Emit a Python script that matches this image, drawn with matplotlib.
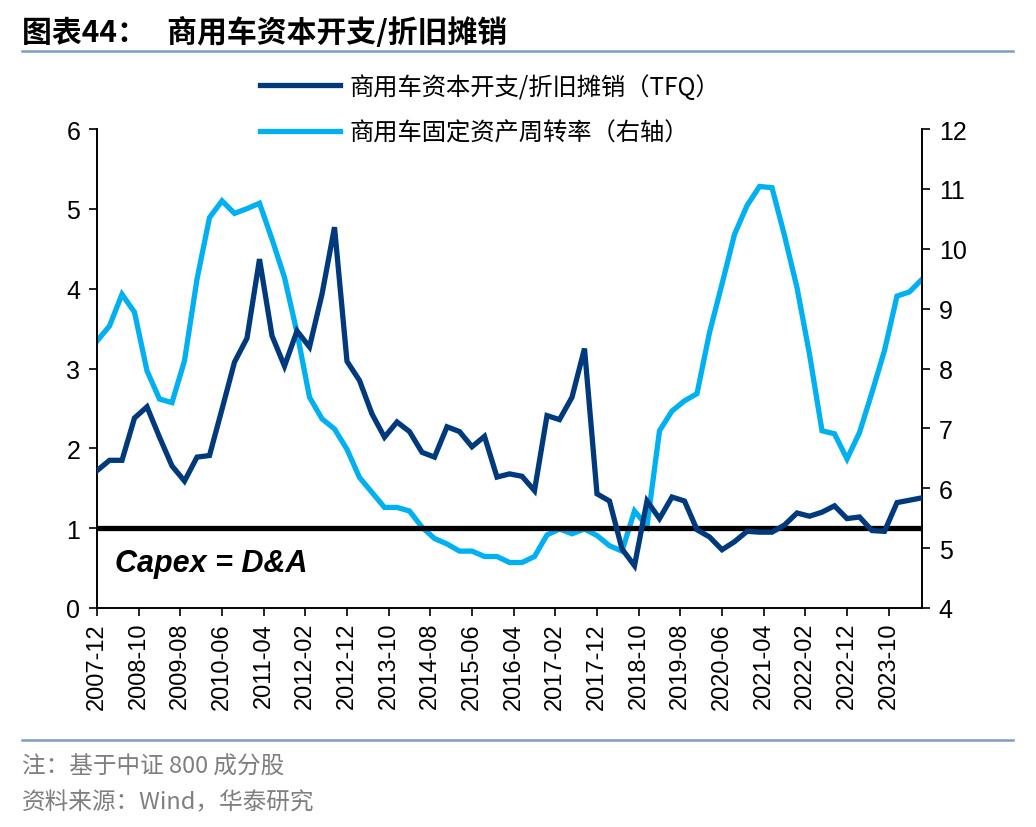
import pandas as pd
import matplotlib
matplotlib.use('Agg')
import matplotlib.pyplot as plt
from matplotlib.lines import Line2D

plt.rcParams['font.family'] = ['Liberation Sans', 'Noto Sans CJK SC']

# quarterly, 2007-12 .. 2024-06
dates = pd.date_range('2007-12-31', periods=67, freq='QE')

capex_da = [1.72, 1.85, 1.85, 2.38, 2.52, 2.14, 1.78, 1.59, 1.89, 1.91,
            2.49, 3.08, 3.38, 4.37, 3.41, 3.03, 3.47, 3.27, 3.93, 4.77,
            3.09, 2.85, 2.43, 2.14, 2.33, 2.21, 1.95, 1.89, 2.27, 2.21,
            2.02, 2.15, 1.64, 1.68, 1.65, 1.47, 2.41, 2.36, 2.64, 3.25,
            1.43, 1.34, 0.74, 0.53, 1.34, 1.12, 1.39, 1.34, 0.98, 0.89,
            0.73, 0.83, 0.96, 0.95, 0.95, 1.04, 1.19, 1.15, 1.20, 1.28,
            1.12, 1.14, 0.97, 0.96, 1.32, 1.35, 1.38]

turnover = [8.46, 8.71, 9.24, 8.94, 7.96, 7.49, 7.43, 8.13, 9.49, 10.52,
            10.80, 10.59, 10.67, 10.76, 10.16, 9.52, 8.60, 7.52, 7.16, 6.99,
            6.65, 6.18, 5.93, 5.68, 5.68, 5.62, 5.35, 5.16, 5.07, 4.95,
            4.95, 4.86, 4.86, 4.76, 4.76, 4.86, 5.22, 5.32, 5.24, 5.32,
            5.21, 5.04, 4.95, 5.62, 5.37, 6.96, 7.29, 7.46, 7.58, 8.60,
            9.41, 10.24, 10.72, 11.04, 11.02, 10.22, 9.35, 8.24, 6.96, 6.91,
            6.49, 6.93, 7.60, 8.30, 9.21, 9.28, 9.49]

tick_labels = ['2007-12', '2008-10', '2009-08', '2010-06', '2011-04', '2012-02',
               '2012-12', '2013-10', '2014-08', '2015-06', '2016-04', '2017-02',
               '2017-12', '2018-10', '2019-08', '2020-06', '2021-04', '2022-02',
               '2022-12', '2023-10']

def month_no(y, m):
    return (y - 2007) * 12 + m - 12

x = [month_no(d.year, d.month) for d in dates]
tick_pos = [month_no(int(s[:4]), int(s[5:])) for s in tick_labels]

dark = '#003A7D'
light = '#00B0F0'
rule = '#7F9CC4'
cjk = ['Noto Sans CJK SC']

fig = plt.figure(figsize=(10.36, 8.28), dpi=100)
ax = fig.add_axes([97/1036, 1-609/828, 825/1036, 479/828])
ax2 = ax.twinx()

ax.plot(x, capex_da, color=dark, lw=3.8, solid_joinstyle='miter', zorder=3)
ax.axhline(1, color='black', lw=3.8, zorder=2)
ax2.plot(x, turnover, color=light, lw=3.8, solid_joinstyle='miter', zorder=2)
ax.set_zorder(ax2.get_zorder() + 1)
ax.patch.set_visible(False)

ax.set_xlim(0, x[-1])
ax.set_ylim(0, 6)
ax2.set_ylim(4, 12)
ax.set_yticks(range(0, 7))
ax2.set_yticks(range(4, 13))
ax.set_xticks(tick_pos)
ax.set_xticklabels(tick_labels, rotation=90)

for a in (ax, ax2):
    a.spines['top'].set_visible(False)
    for s in a.spines.values():
        s.set_linewidth(1.2)
    a.tick_params(direction='out', length=6, width=1.2, labelsize=18, pad=6)
ax.tick_params(axis='x', labelsize=17, pad=4)

ax.text(0.022, 0.093, 'Capex = D&A', transform=ax.transAxes, fontsize=22,
        fontweight='bold', fontstyle='italic', va='center', ha='left')

handles = [Line2D([], [], color=dark, lw=3.8),
           Line2D([], [], color=light, lw=3.8)]
labels = ['商用车资本开支/折旧摊销（TFQ）', '商用车固定资产周转率（右轴）']
fig.legend(handles, labels, loc='upper left', bbox_to_anchor=(238/1036, 1-53/828),
           frameon=False, handlelength=3.3, handletextpad=0.4, labelspacing=0.8,
           prop={'family': cjk, 'size': 17.5})

fig.text(22/1036, 1-32/828, '图表44：   商用车资本开支/折旧摊销', fontsize=21.5,
         fontweight='bold', family=cjk, va='center', ha='left')
fig.add_artist(Line2D([22/1036, 1013/1036], [1-52/828, 1-52/828], color=rule, lw=1.8))
fig.add_artist(Line2D([22/1036, 1013/1036], [1-741/828, 1-741/828], color=rule, lw=1.8))
fig.text(22/1036, 1-767/828, '注：基于中证 800 成分股', fontsize=17, color='#7F7F7F',
         family=cjk, va='center', ha='left')
fig.text(22/1036, 1-803/828, '资料来源：Wind，华泰研究', fontsize=17, color='#7F7F7F',
         family=cjk, va='center', ha='left')

fig.savefig('out.png', dpi=100)
